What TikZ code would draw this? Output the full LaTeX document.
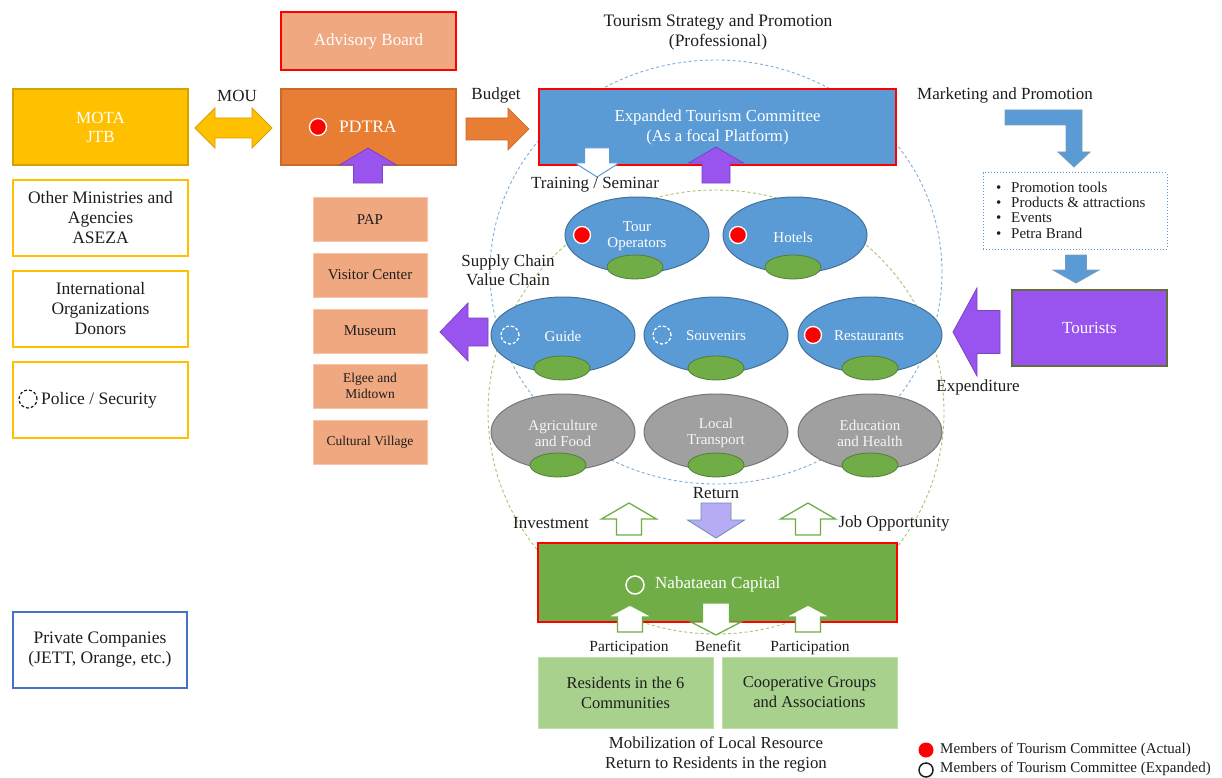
\documentclass[tikz,border=0pt]{standalone}
\usepackage{fontspec}
\setmainfont{Liberation Serif}
\usetikzlibrary{shapes.geometric}

\definecolor{txt}{RGB}{30,30,30}
\definecolor{gold}{RGB}{255,192,0}
\definecolor{goldline}{RGB}{214,160,0}
\definecolor{pdorange}{RGB}{232,125,52}
\definecolor{pdline}{RGB}{205,105,40}
\definecolor{salmon}{RGB}{240,168,128}
\definecolor{salmonline}{RGB}{246,196,166}
\definecolor{tblue}{RGB}{91,155,213}
\definecolor{tblueline}{RGB}{65,113,156}
\definecolor{tgreen}{RGB}{112,173,71}
\definecolor{tgreenline}{RGB}{80,126,50}
\definecolor{tgray}{RGB}{160,160,160}
\definecolor{tgrayline}{RGB}{118,118,118}
\definecolor{violet1}{RGB}{153,84,240}
\definecolor{violetline}{RGB}{95,110,60}
\definecolor{lavender}{RGB}{182,172,246}
\definecolor{lightgreen}{RGB}{169,209,142}
\definecolor{lightgreenline}{RGB}{190,222,170}
\definecolor{ringgreen}{RGB}{170,196,110}
\definecolor{privline}{RGB}{68,114,196}

\newcommand{\fs}[2]{\fontsize{#1}{#2}\selectfont}

% straight block arrow: style, tail point, direction angle, length,
% shaft half width, head half width, head length
\newcommand{\blockarrow}[7]{%
  \path[#1,shift={(#2)},rotate=#3]
    (0,-#5) -- ({#4-#7},-#5) -- ({#4-#7},-#6) -- (#4,0)
    -- ({#4-#7},#6) -- ({#4-#7},#5) -- (0,#5) -- cycle;}

\begin{document}
\begin{tikzpicture}[x=1pt,y=-1pt,
  lbl/.style={font=\fs{17}{19.5}, text=txt, inner sep=0, align=center},
  wlbl/.style={font=\fs{17}{19.5}, text=white, inner sep=0, align=center},
  box/.style={rectangle, inner sep=0, minimum width=175pt, minimum height=76pt, line width=1.2pt},
  sidebox/.style={box, fill=white, draw=gold, line width=1.4pt, font=\fs{17.5}{20}, text=txt, align=center},
  sitebox/.style={rectangle, inner sep=0, minimum width=114pt, minimum height=44pt,
     fill=salmon, draw=salmonline, line width=1pt, text=txt, align=center},
  sector/.style={ellipse, inner sep=0, minimum width=144pt, minimum height=76pt, line width=1pt},
  bluesector/.style={sector, fill=tblue, draw=tblueline},
  graysector/.style={sector, fill=tgray, draw=tgrayline},
  seed/.style={ellipse, inner sep=0, minimum width=56pt, minimum height=24pt,
     fill=tgreen, draw=tgreenline, line width=0.8pt},
  reddot/.style={circle, inner sep=0, minimum size=17pt, fill=red, draw=white, line width=1.3pt},
  opendot/.style={circle, inner sep=0, minimum size=18pt, draw=white, line width=1.3pt,
     dash pattern=on 3pt off 2pt},
  ringline/.style={line width=0.9pt, dash pattern=on 3pt off 2.5pt},
  greenhollow/.style={fill=white, draw=tgreen, line width=1.3pt},
  purplearrow/.style={fill=violet1, draw=violet1!80!black, line width=0.8pt},
  bluearrow/.style={fill=tblue, draw=tblueline!70, line width=0.8pt}]

\useasboundingbox[fill=white] (0,0) rectangle (1222,778);

% dashed rings of the tourism cluster
\draw[ringline, draw=tblue!80] (716,272) ellipse [x radius=226pt, y radius=212pt];
\draw[ringline, draw=ringgreen] (716,412) ellipse [x radius=228pt, y radius=222pt];

% headline
\node[lbl, font=\fs{17.5}{20}] (strategy) at (718,32) {Tourism Strategy and Promotion\\(Professional)};

% left column: governance and partners
\node[box, fill=salmon, draw=red, line width=1.6pt, minimum height=58pt, font=\fs{17}{19}, text=white]
  (advisory) at (368.5,41) {Advisory Board};
\node[box, fill=gold, draw=goldline, font=\fs{17}{19}, text=white, align=center]
  (mota) at (100.5,127) {MOTA\\JTB};
\node[box, fill=pdorange, draw=pdline] (pdtra) at (368.5,127) {};
\node[reddot] (pdtradot) at (318,127) {};
\node[wlbl, font=\fs{17.5}{19}, anchor=west] (pdtratxt) at (339,127) {PDTRA};

\node[sidebox] (ministries) at (100.5,218) {Other Ministries and\\Agencies\\ASEZA};
\node[sidebox] (intl) at (100.5,309) {International\\Organizations\\Donors};
\node[sidebox] (police) at (100.5,400) {};
\node[circle, inner sep=0, minimum size=18pt, draw=txt, line width=1.2pt,
  dash pattern=on 3pt off 2pt] (policedot) at (28,399) {};
\node[lbl, font=\fs{17.5}{20}, anchor=west] (policetxt) at (41,400) {Police / Security};
\node[box, fill=white, draw=privline, line width=1.2pt, minimum width=174pt,
  font=\fs{17.5}{20}, text=txt, align=center] (private) at (100,650)
  {Private Companies\\(JETT, Orange, etc.)};

% sites managed by PDTRA
\node[sitebox, font=\fs{15}{17}] (pap) at (370,219.5) {PAP};
\node[sitebox, font=\fs{15}{17}] (visitor) at (370,275) {Visitor Center};
\node[sitebox, font=\fs{15}{17}] (museum) at (370,331) {Museum};
\node[sitebox, font=\fs{13.5}{16}] (elgee) at (370,386) {Elgee and\\Midtown};
\node[sitebox, font=\fs{13.5}{16}] (village) at (370,442) {Cultural Village};

% MOU and budget flows
\node[lbl] (mou) at (237,96) {MOU};
\path[fill=gold, draw=goldline, line width=0.8pt]
  (195,128) -- (215,108) -- (215,118) -- (252,118) -- (252,108) -- (272,128)
  -- (252,148) -- (252,138) -- (215,138) -- (215,148) -- cycle;
\node[lbl] (budget) at (496,95) {Budget};
\blockarrow{fill=pdorange, draw=pdline, line width=0.6pt}{466,129}{0}{63}{11}{21}{21}

% committee
\node[box, fill=tblue, draw=red, line width=2pt, minimum width=357pt, font=\fs{16.8}{20},
  text=white, align=center] (committee) at (717.5,127)
  {Expanded Tourism Committee\\(As a focal Platform)};
\blockarrow{fill=white, draw=tblue, line width=1pt}{597,148}{-90}{29}{12.5}{22}{14}
\node[lbl] (training) at (595,185) {Training / Seminar};
\blockarrow{purplearrow}{368,183}{90}{35}{14.5}{28.5}{17}
\blockarrow{purplearrow}{716,183}{90}{36}{14}{27.5}{16}

% marketing chain
\node[lbl] (marketing) at (1005,95) {Marketing and Promotion};
\path[bluearrow]
  (1005,110) -- (1082,110) -- (1082,152) -- (1090,152) -- (1074,167)
  -- (1058,152) -- (1066,152) -- (1066,125) -- (1005,125) -- cycle;
\node[rectangle, inner sep=0, minimum width=184pt, minimum height=76pt, draw=tblue,
  line width=1pt, dotted] (promo) at (1075,211) {};
\node[anchor=west, inner sep=0, align=left, font=\fs{15}{15.4}, text=txt] (promolist) at (996,210)
  {\makebox[15pt][l]{\textbullet}Promotion tools\\
   \makebox[15pt][l]{\textbullet}Products \& attractions\\
   \makebox[15pt][l]{\textbullet}Events\\
   \makebox[15pt][l]{\textbullet}Petra Brand};
\blockarrow{bluearrow}{1076,255}{-90}{28}{10.5}{23}{13}
\node[rectangle, inner sep=0, minimum width=155pt, minimum height=76pt, fill=violet1,
  draw=violetline, line width=1.2pt, font=\fs{17}{19}, text=white] (tourists) at (1089.5,328) {Tourists};
\blockarrow{purplearrow}{1000,332}{180}{47}{21.5}{44}{24}
\node[lbl] (expenditure) at (978,387) {Expenditure};

% supply chain / value chain sectors
\node[lbl] (supply) at (508,270) {Supply Chain\\Value Chain};
\blockarrow{purplearrow}{488,332}{180}{48}{14}{29}{28}

\node[bluesector] (tour) at (637,235) {};
\node[seed] at (635,267) {};
\node[reddot] at (582,235) {};
\node[wlbl, font=\fs{15}{16}] at (637,236) {Tour\\Operators};

\node[bluesector] (hotels) at (795,235) {};
\node[seed] at (793,267) {};
\node[reddot] at (738,235) {};
\node[wlbl, font=\fs{15}{16}] at (793,237) {Hotels};

\node[bluesector] (guide) at (563,335) {};
\node[seed] at (562,368) {};
\node[opendot] at (510,335) {};
\node[wlbl, font=\fs{15}{16}] at (563,336) {Guide};

\node[bluesector] (souvenirs) at (716,335) {};
\node[seed] at (716,368) {};
\node[opendot] at (662,335) {};
\node[wlbl, font=\fs{15}{16}] at (716,336) {Souvenirs};

\node[bluesector] (restaurants) at (870,335) {};
\node[seed] at (870,368) {};
\node[reddot] at (813,335) {};
\node[wlbl, font=\fs{15}{16}] at (869,336) {Restaurants};

\node[graysector] (agri) at (563,432) {};
\node[seed] at (558,465) {};
\node[wlbl, text=white!92!gray, font=\fs{15}{16}] at (563,433) {Agriculture\\and Food};

\node[graysector] (transport) at (716,432) {};
\node[seed] at (716,465) {};
\node[wlbl, text=white!92!gray, font=\fs{15}{16}] at (716,433) {Local\\Transport};

\node[graysector] (education) at (870,432) {};
\node[seed] at (870,465) {};
\node[wlbl, text=white!92!gray, font=\fs{15}{16}] at (870,433) {Education\\and Health};

% flows between the sectors and the local capital
\node[lbl] (return) at (716,493) {Return};
\blockarrow{fill=lavender, draw=tblueline!80, line width=0.8pt}{716,503}{-90}{35}{15}{28.5}{18}
\node[lbl] (investment) at (551,523) {Investment};
\blockarrow{greenhollow}{629,535}{90}{32}{12.5}{27.5}{16}
\node[lbl] (job) at (894,523) {Job Opportunity};
\blockarrow{greenhollow}{808,535}{90}{32}{12.5}{27.5}{16}

\node[rectangle, inner sep=0, minimum width=359pt, minimum height=79pt, fill=tgreen,
  draw=red, line width=2pt] (capital) at (717.5,582.5) {};
\node[circle, inner sep=0, minimum size=18pt, draw=white, line width=1.5pt] (capitaldot) at (635,585) {};
\node[wlbl, anchor=west] (capitaltxt) at (655,584) {Nabataean Capital};

\blockarrow{greenhollow}{630,632}{90}{27}{12.5}{22.5}{12}
\blockarrow{greenhollow}{808,632}{90}{27}{12.5}{22.5}{12}
\blockarrow{greenhollow}{716,603}{-90}{32}{13.5}{25}{13}
\node[lbl, font=\fs{15.5}{18}, anchor=base] (partl) at (629,651) {Participation};
\node[lbl, font=\fs{15.5}{18}, anchor=base] (benefit) at (718,651) {Benefit};
\node[lbl, font=\fs{15.5}{18}, anchor=base] (partr) at (810,651) {Participation};

\node[rectangle, inner sep=0, minimum width=175pt, minimum height=71pt, fill=lightgreen,
  draw=lightgreenline, line width=1pt, font=\fs{16.5}{20}, text=txt, align=center]
  (residents) at (625.5,692.5) {Residents in the 6\\Communities};
\node[rectangle, inner sep=0, minimum width=175pt, minimum height=71pt, fill=lightgreen,
  draw=lightgreenline, line width=1pt, font=\fs{16.5}{20}, text=txt, align=center]
  (coop) at (809.5,692.5) {Cooperative Groups\\and Associations};
\node[lbl, font=\fs{16.8}{20}] (mobilization) at (716,754)
  {Mobilization of Local Resource\\Return to Residents in the region};

% legend
\node[circle, inner sep=0, minimum size=15pt, fill=red] (legactual) at (926,750) {};
\node[circle, inner sep=0, minimum size=14pt, draw=txt, line width=1.5pt] (legexp) at (926,770) {};
\node[lbl, font=\fs{15}{16}, anchor=west] at (940,750) {Members of Tourism Committee (Actual)};
\node[lbl, font=\fs{15}{16}, anchor=west] at (940,769) {Members of Tourism Committee (Expanded)};

\end{tikzpicture}
\end{document}
